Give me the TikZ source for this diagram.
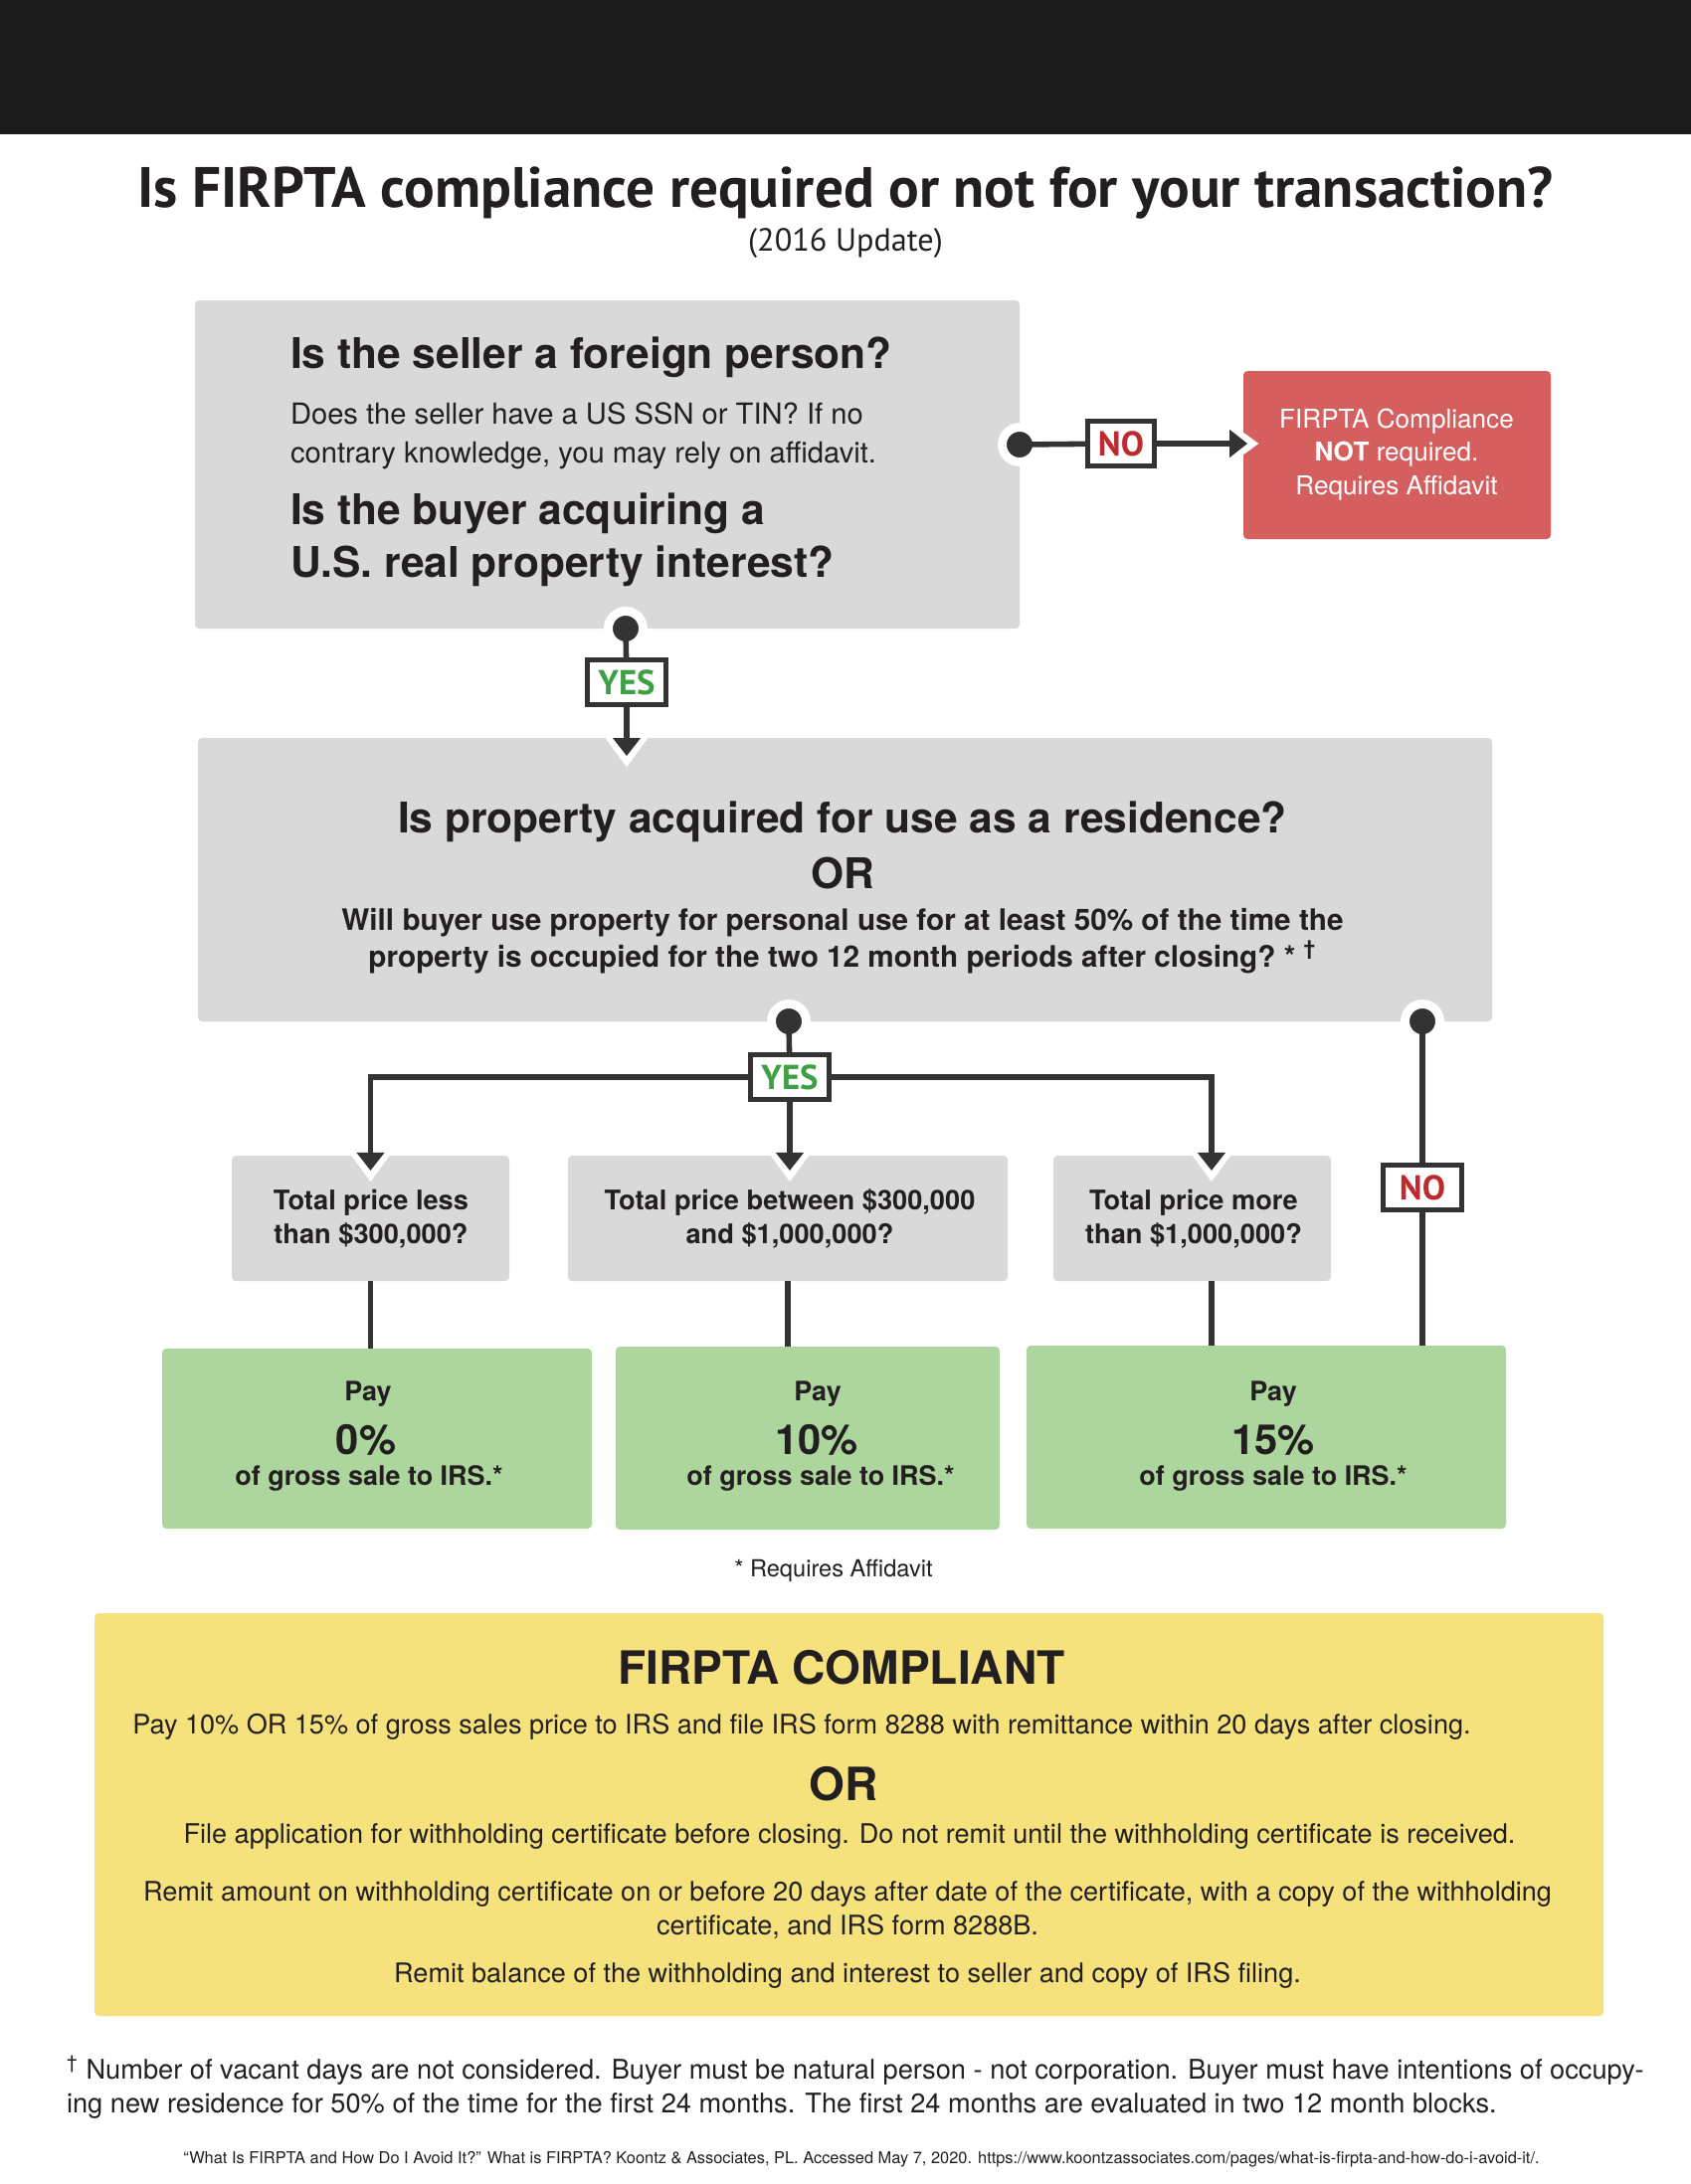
\documentclass[tikz,border=0pt]{standalone}
\usepackage{fontspec}
\setmainfont{TeX Gyre Heros}
\newfontfamily\labelfont{PT Sans}
\usetikzlibrary{arrows.meta,positioning,fit}

\definecolor{ink}{HTML}{333333}
\definecolor{textink}{HTML}{231F20}
\definecolor{band}{HTML}{1A1A1A}
\definecolor{boxgray}{HTML}{D9D9D9}
\definecolor{nored}{HTML}{D55E5E}
\definecolor{paygreen}{HTML}{ACD69E}
\definecolor{compyellow}{HTML}{F6E27C}
\definecolor{yesgreen}{HTML}{3F9F45}
\definecolor{notext}{HTML}{BE2A2E}

\begin{document}
\begin{tikzpicture}[
        x=0.36pt, y=-0.36pt,
        every node/.style={inner sep=0pt, outer sep=0pt, text=textink},
        panel/.style={rounded corners=1.5pt, inner sep=0pt},
        ask/.style={panel, fill=boxgray},
        price/.style={
            align=center,
            font=\fontsize{9.8}{11.9}\selectfont\bfseries
        },
        pay/.style={panel, fill=paygreen},
        stop/.style={panel, fill=nored},
        stoptext/.style={
            align=center,
            text=white,
            font=\fontsize{9.4}{11.9}\selectfont
        },
        comply/.style={panel, fill=compyellow},
        head/.style={font=\fontsize{15.3}{19}\selectfont\bfseries},
        body/.style={font=\fontsize{10.5}{13.7}\selectfont},
        medium/.style={font=\fontsize{10.7}{13.3}\selectfont\bfseries},
        paysmall/.style={font=\fontsize{9.7}{11}\selectfont\bfseries},
        paybig/.style={font=\fontsize{15}{17}\selectfont\bfseries},
        note/.style={font=\fontsize{8.5}{10}\selectfont},
        comphead/.style={font=\fontsize{16.6}{19}\selectfont\bfseries},
        compbody/.style={font=\fontsize{9.75}{11.9}\selectfont},
        foot/.style={font=\fontsize{9.8}{11.9}\selectfont},
        cite/.style={font=\fontsize{5.9}{7}\selectfont},
        tag/.style={
            rectangle,
            draw=ink,
            fill=white,
            line width=1.8pt,
            minimum width=28.5pt,
            minimum height=16.5pt,
            font=\labelfont\bfseries\fontsize{12.5}{14}\selectfont
        },
        dot/.style={
            circle,
            fill=ink,
            draw=white,
            line width=3.2pt,
            minimum size=12.6pt,
            inner sep=0pt
        },
        wire/.style={draw=ink, line width=2pt},
        conn/.style={
            draw=ink,
            line width=2pt,
            -{Triangle[width=9.7pt,length=6.5pt]},
            shorten >=-#1,
            preaction={draw=white, -{Triangle[width=20pt,length=14pt]}, shorten >=-#1-5.4pt}
        },
        conn/.default=6.5pt
    ]

    % Page
    \fill[white] (0,0) rectangle (1700,2196);
    \useasboundingbox (0,0) rectangle (1700,2196);
    \node[fill=band, fit={(0,0) (1700,135)}] (topband) {};

    % Title
    \node[anchor=base, font=\labelfont\bfseries\fontsize{20.6}{24}\selectfont] (title) at (850,208)
        {Is FIRPTA compliance required or not for your transaction?};
    \node[anchor=base, font=\labelfont\fontsize{11.6}{13}\selectfont] (subtitle) at (850,252) {(2016 Update)};

    % First question
    \node[ask, fit={(196,302) (1025,632)}] (seller) {};
    \node[head, anchor=base west] (sellerQ) at (292,370) {Is the seller a foreign person?};
    \node[body, anchor=base west, align=left] (sellerNote) at (292,465)
        {Does the seller have a US SSN or TIN? If no\\contrary knowledge, you may rely on affidavit.};
    \node[head, anchor=base west, align=left] (buyerQ) at (292,580)
        {Is the buyer acquiring a\\U.S. real property interest?};

    \node[stop, fit={(1250,373) (1559,542)}] (notreq) {};
    \node[stoptext, anchor=base] (notreqText) at (1404,497)
        {FIRPTA Compliance\\\textbf{NOT} required.\\Requires Affidavit};

    % Second question
    \node[ask, fit={(199,742) (1500,1027)}] (residence) {};
    \node[head, anchor=base] (residenceQ) at (847,837) {Is property acquired for use as a residence?};
    \node[head, anchor=base] (residenceOr) at (847,893) {OR};
    \node[medium, anchor=base, align=center] (residenceNote) at (847,972)
        {Will buyer use property for personal use for at least 50\% of the time the\\property is occupied for the two 12 month periods after closing?~*~\textsuperscript{†}};

    % Price brackets
    \node[ask, fit={(233,1162) (512,1288)}] (priceA) {};
    \node[ask, fit={(571,1162) (1013,1288)}] (priceB) {};
    \node[ask, fit={(1059,1162) (1338,1288)}] (priceC) {};
    \node[price, anchor=base] (priceAText) at (373,1250) {Total price less\\than \$300,000?};
    \node[price, anchor=base] (priceBText) at (794,1250) {Total price between \$300,000\\and \$1,000,000?};
    \node[price, anchor=base] (priceCText) at (1200,1250) {Total price more\\than \$1,000,000?};

    % Withholding
    \node[pay, fit={(163,1356) (595,1537)}] (payA) {};
    \node[pay, fit={(619,1354) (1005,1538)}] (payB) {};
    \node[pay, fit={(1032,1353) (1514,1537)}] (payC) {};

    \node[paysmall, anchor=base] (payAtop) at (370,1408) {Pay};
    \node[paybig, anchor=base] (payArate) at (368,1462) {0\%};
    \node[paysmall, anchor=base] (payAnote) at (371,1493) {of gross sale to IRS.*};
    \node[paysmall, anchor=base] (payBtop) at (822,1408) {Pay};
    \node[paybig, anchor=base] (payBrate) at (821,1462) {10\%};
    \node[paysmall, anchor=base] (payBnote) at (825,1493) {of gross sale to IRS.*};
    \node[paysmall, anchor=base] (payCtop) at (1280,1408) {Pay};
    \node[paybig, anchor=base] (payCrate) at (1280,1462) {15\%};
    \node[paysmall, anchor=base] (payCnote) at (1280,1493) {of gross sale to IRS.*};

    \node[note, anchor=base] (affNote) at (838,1585) {* Requires Affidavit};

    % Compliant
    \node[comply, fit={(95,1622) (1612,2027)}] (compliant) {};
    \node[comphead, anchor=base] (compTitle) at (846,1693) {FIRPTA COMPLIANT};
    \node[compbody, anchor=base] (compPay) at (806,1743)
        {Pay 10\% OR 15\% of gross sales price to IRS and file IRS form 8288 with remittance within 20 days after closing.};
    \node[comphead, anchor=base] (compOr) at (848,1810) {OR};
    \node[compbody, anchor=base] (compFile) at (854,1853)
        {File application for withholding certificate before closing. Do not remit until the withholding certificate is received.};
    \node[compbody, anchor=base, align=center] (compRemit) at (852,1945)
        {Remit amount on withholding certificate on or before 20 days after date of the certificate, with a copy of the withholding\\certificate, and IRS form 8288B.};
    \node[compbody, anchor=base] (compBal) at (852,1993)
        {Remit balance of the withholding and interest to seller and copy of IRS filing.};

    % Footnotes
    \node[foot, anchor=base west, align=left] (dagger) at (67,2124)
        {\textsuperscript{†} Number of vacant days are not considered. Buyer must be natural person - not corporation. Buyer must have intentions of occupy-\\ing new residence for 50\% of the time for the first 24 months. The first 24 months are evaluated in two 12 month blocks.};
    \node[cite, anchor=base] (source) at (866,2175)
        {“What Is FIRPTA and How Do I Avoid It?” What is FIRPTA? Koontz \& Associates, PL. Accessed May 7, 2020. https://www.koontzassociates.com/pages/what-is-firpta-and-how-do-i-avoid-it/.};

    % Dots
    \node[dot] (noDot) at (seller.east |- 0,447) {};
    \node[dot] (yesDot) at (seller.south -| 629,0) {};
    \node[dot] (resDot) at (residence.south -| 793,0) {};
    \node[dot] (noResDot) at (residence.south -| 1430,0) {};

    % Answer tags
    \node[tag, minimum width=24pt, text=notext] (noSeller) at (1127,446) {NO};
    \node[tag, text=yesgreen] (yesSeller) at (630,686) {YES};
    \node[tag, text=yesgreen] (yesRes) at (794,1083) {YES};
    \node[tag, text=notext] (noRes) at (1430,1194) {NO};

    % Connections
    \draw[wire] (noDot.center) -- (noSeller);
    \draw[conn=1.5pt] (noSeller) -- (noSeller -| notreq.west);

    \draw[wire] (yesDot.center) -- (yesSeller);
    \draw[conn] (yesSeller) -- (yesSeller |- residence.north);

    \draw[wire] (resDot.center) -- (yesRes);
    \draw[conn=5.4pt] (yesRes) -- (yesRes |- priceB.north);
    \draw[conn=5.4pt] (yesRes.west) -| (priceA.north);
    \draw[conn=5.4pt] (yesRes.east) -| ([xshift=7pt]priceC.north);

    \draw[wire] (noResDot.center) -- (noRes);
    \draw[wire] (noRes) -- (noRes |- payC.north);

    \draw[wire] (priceA.south) -- (priceA.south |- payA.north);
    \draw[wire] (priceB.south) -- (priceB.south |- payB.north);
    \draw[wire] ([xshift=7pt]priceC.south) -- ([xshift=7pt]priceC.south |- payC.north);

\end{tikzpicture}
\end{document}
